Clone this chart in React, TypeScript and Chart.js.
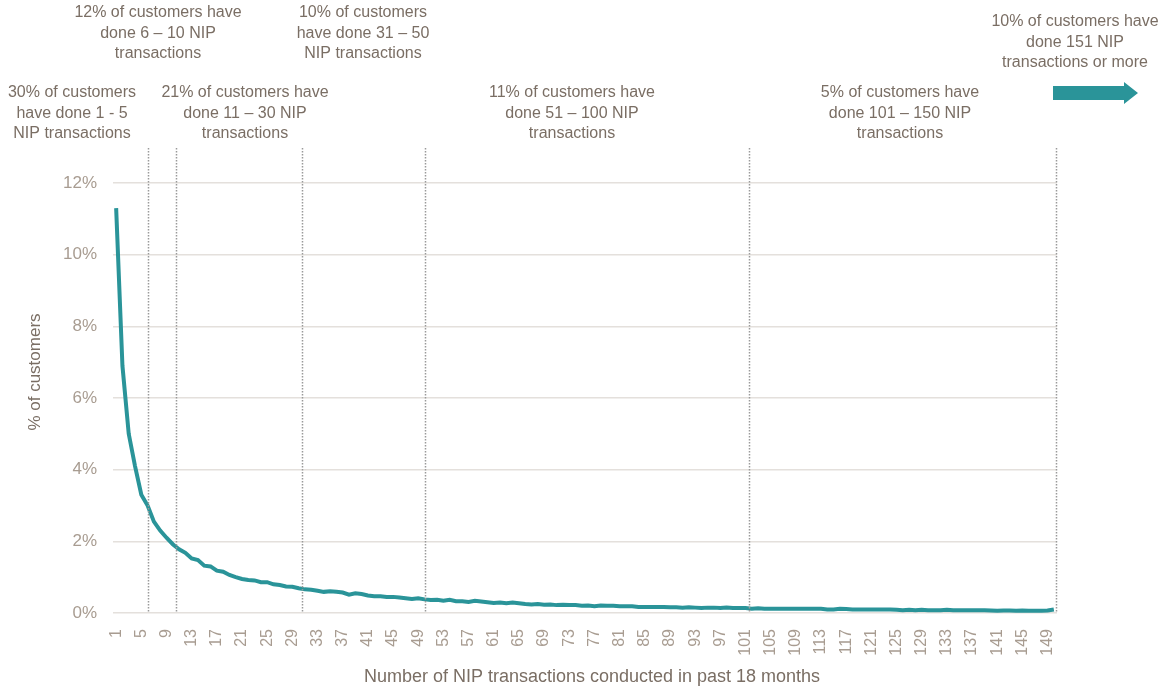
import React, { useEffect, useRef } from "react";
import { Chart, registerables } from "chart.js";

Chart.register(...registerables);

const categories: string[] = Array.from({ length: 150 }, (_, i) => String(i + 1));

const shareOfCustomers: number[] = [
  11.3, 6.9, 5.0, 4.1, 3.3, 3.0, 2.55, 2.3, 2.1, 1.92,
  1.78, 1.68, 1.52, 1.48, 1.32, 1.30, 1.18, 1.15, 1.06, 1.00,
  0.95, 0.92, 0.91, 0.86, 0.86, 0.80, 0.78, 0.74, 0.73, 0.69,
  0.66, 0.65, 0.62, 0.59, 0.61, 0.59, 0.57, 0.51, 0.55, 0.53,
  0.49, 0.47, 0.47, 0.45, 0.45, 0.43, 0.41, 0.39, 0.41, 0.38,
  0.36, 0.37, 0.34, 0.37, 0.33, 0.33, 0.31, 0.34, 0.32, 0.30,
  0.28, 0.29, 0.27, 0.29, 0.27, 0.25, 0.24, 0.25, 0.23, 0.24,
  0.22, 0.23, 0.22, 0.22, 0.20, 0.21, 0.19, 0.21, 0.20, 0.20,
  0.19, 0.19, 0.19, 0.17, 0.17, 0.17, 0.17, 0.17, 0.16, 0.16,
  0.15, 0.16, 0.15, 0.14, 0.15, 0.15, 0.14, 0.15, 0.14, 0.14,
  0.14, 0.12, 0.13, 0.12, 0.12, 0.12, 0.12, 0.12, 0.12, 0.12,
  0.12, 0.12, 0.12, 0.10, 0.10, 0.12, 0.11, 0.10, 0.10, 0.10,
  0.10, 0.10, 0.10, 0.10, 0.09, 0.08, 0.09, 0.08, 0.09, 0.08,
  0.08, 0.08, 0.09, 0.08, 0.08, 0.08, 0.08, 0.08, 0.08, 0.07,
  0.06, 0.07, 0.07, 0.06, 0.07, 0.06, 0.06, 0.06, 0.07, 0.10,
];

const yTickValues: number[] = [0, 2, 4, 6, 8, 10, 12];

// band boundaries (in transaction counts) shown as dotted lines
const boundaries: number[] = [6, 10.5, 30.5, 50, 101.5, 150.3];

const xTitle = "Number of NIP transactions conducted in past 18 months";
const yTitle = "% of customers";

const annotationTexts: string[][] = [
  ["30% of customers", "have done 1 - 5", "NIP transactions"],
  ["12% of customers have", "done 6 – 10 NIP", "transactions"],
  ["21% of customers have", "done 11 – 30 NIP", "transactions"],
  ["10% of customers", "have done 31 – 50", "NIP transactions"],
  ["11% of customers have", "done 51 – 100 NIP", "transactions"],
  ["5% of customers have", "done 101 – 150 NIP", "transactions"],
  ["10% of customers have", "done 151 NIP", "transactions or more"],
];

// layout positions (px) for annotations: [centerX, firstLineY]
const annotationLayout: number[][] = [
  [72, 93],
  [158, 13],
  [245, 93],
  [363, 13],
  [572, 93],
  [900, 93],
  [1075, 22],
];

const FONT = "'Liberation Sans', Arial, sans-serif";
const TEAL = "#2a9499";
const TEXT = "#7a6e64";

const overlayPlugin = {
  id: "overlay",
  afterDatasetsDraw(chart: any) {
    const { ctx, scales, chartArea } = chart;
    const x = scales.x;
    ctx.save();
    // dotted boundary lines
    ctx.strokeStyle = "#9a9a9a";
    ctx.lineWidth = 1.5;
    ctx.setLineDash([1.5, 1.5]);
    boundaries.forEach((b) => {
      const px = Math.round(x.getPixelForValue(b - 1)) + 0.5;
      ctx.beginPath();
      ctx.moveTo(px, 148);
      ctx.lineTo(px, chartArea.bottom);
      ctx.stroke();
    });
    ctx.setLineDash([]);
    // annotations
    ctx.fillStyle = TEXT;
    ctx.font = `16px ${FONT}`;
    ctx.textAlign = "center";
    ctx.textBaseline = "middle";
    annotationTexts.forEach((lines, i) => {
      const [cx, y0] = annotationLayout[i];
      lines.forEach((ln, j) => ctx.fillText(ln, cx, y0 + j * 20.5));
    });
    // axis titles
    ctx.font = `18px ${FONT}`;
    ctx.fillText(xTitle, 592, 677);
    ctx.save();
    ctx.translate(35, 372);
    ctx.rotate(-Math.PI / 2);
    ctx.font = `17px ${FONT}`;
    ctx.fillText(yTitle, 0, 0);
    ctx.restore();
    // arrow
    ctx.fillStyle = TEAL;
    ctx.beginPath();
    ctx.moveTo(1053, 86);
    ctx.lineTo(1124, 86);
    ctx.lineTo(1124, 82);
    ctx.lineTo(1138, 93);
    ctx.lineTo(1124, 104);
    ctx.lineTo(1124, 100);
    ctx.lineTo(1053, 100);
    ctx.closePath();
    ctx.fill();
    ctx.restore();
  },
};

export default function App() {
  const ref = useRef<HTMLCanvasElement>(null);
  useEffect(() => {
    if (!ref.current) return;
    const chart = new Chart(ref.current, {
      type: "line",
      data: {
        labels: categories,
        datasets: [
          {
            data: shareOfCustomers,
            borderColor: TEAL,
            borderWidth: 4,
            pointRadius: 0,
            tension: 0,
            fill: false,
          },
        ],
      },
      options: {
        animation: false,
        responsive: true,
        maintainAspectRatio: false,
        layout: { padding: { top: 183, right: 111, left: 0, bottom: 0 } },
        plugins: { legend: { display: false }, tooltip: { enabled: false } },
        scales: {
          x: {
            offset: true,
            grid: { display: false },
            border: { display: false },
            ticks: {
              autoSkip: false,
              minRotation: 90,
              maxRotation: 90,
              padding: 8,
              color: "#a89c91",
              font: { family: FONT, size: 16 },
              callback: (_v: any, i: number) => (i % 4 === 0 ? categories[i] : ""),
            },
            afterFit: (s: any) => {
              s.height = 77;
            },
          },
          y: {
            min: 0,
            max: 12,
            grid: { color: "#e4e0dc", lineWidth: 1.5, drawTicks: false },
            border: { display: false },
            afterBuildTicks: (s: any) => {
              s.ticks = yTickValues.map((v) => ({ value: v }));
            },
            ticks: {
              padding: 16,
              color: "#a89c91",
              font: { family: FONT, size: 17 },
              callback: (v: any) => `${v}%`,
            },
            afterFit: (s: any) => {
              s.width = 113;
            },
          },
        },
      },
      plugins: [overlayPlugin],
    });
    return () => chart.destroy();
  }, []);
  return (
    <div style={{ position: "absolute", left: 0, top: 0, width: 1168, height: 690 }}>
      <canvas ref={ref} />
    </div>
  );
}
